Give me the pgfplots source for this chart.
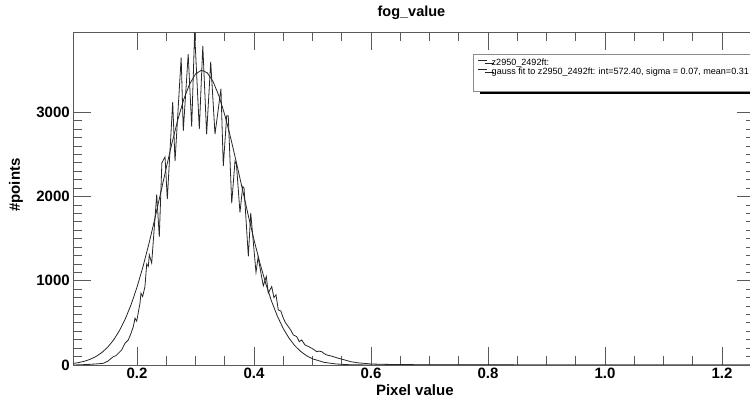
\documentclass[border=0pt]{standalone}
\usepackage{fontspec}
\setmainfont{Liberation Sans}
\usepackage{pgfplots}
\pgfplotsset{compat=1.18}
\usetikzlibrary{shadows}

\begin{document}
\begin{tikzpicture}
\begin{axis}[
  scale only axis,
  width=681.7pt, height=332.7pt,
  xmin=0.0911, xmax=1.2564,
  ymin=0, ymax=3950,
  xtick={0.2,0.4,0.6,0.8,1.0,1.2},
  xticklabels={0.2,0.4,0.6,0.8,1.0,1.2},
  ytick={0,1000,2000,3000},
  yticklabels={0,1000,2000,3000},
  minor x tick num=3,
  minor y tick num=9,
  tick align=inside,
  major tick length=18pt,
  minor tick length=9pt,
  axis line style={black!65, line width=0.8pt},
  every tick/.style={black!65, line width=0.8pt},
  tick label style={font=\fontsize{15}{15}\selectfont\bfseries},
  xlabel={Pixel value}, ylabel={\#points}, title={fog\_value},
  label style={font=\fontsize{15}{15}\selectfont\bfseries},
  every axis title shift=0pt,
  title style={font=\fontsize{14.5}{14.5}\selectfont\bfseries, at={(axis description cs:0.496,1.058)}, anchor=center, yshift=0pt},
  xlabel style={at={(axis description cs:0.501,-0.075)}, anchor=center},
  ylabel style={at={(axis description cs:-0.084,0.541)}, anchor=center},
  legend style={at={(axis description cs:0.5865,0.9348)}, anchor=north west,
    draw=black!45, line width=0.6pt, fill=white,
    font=\fontsize{9.05}{9.05}\selectfont, inner xsep=4pt, inner ysep=5pt,
    row sep=0pt, column sep=3.5pt,
    nodes={inner xsep=1pt, inner ysep=0pt, text height=6.5pt, text depth=2.5pt},
    drop shadow={shadow xshift=7pt, shadow yshift=-2.7pt, fill=black, opacity=1}},
  legend cell align=left,
  legend image code/.code={\draw[#1] (0pt,3pt) -- (9pt,3pt);},
]
\addplot[black!85, line width=0.8pt] coordinates {
(0.0911,0) (0.105,3) (0.120,8) (0.1330,14) (0.1424,20) (0.1500,45) (0.1595,99)
(0.1640,110) (0.1680,139) (0.1738,178) (0.1795,258) (0.1851,297) (0.1900,380)
(0.1937,456) (0.1966,556) (0.1995,520) (0.2051,734) (0.2068,853) (0.2097,813)
(0.2136,932) (0.2166,1200) (0.2193,1170) (0.2210,1309) (0.2251,1210) (0.2337,2024)
(0.2381,1520) (0.2425,2400) (0.2479,2470) (0.2518,1970) (0.2610,3120) (0.2650,2420)
(0.2755,3650) (0.2791,2780) (0.2875,3690) (0.2935,2830) (0.2985,3950) (0.3065,2800)
(0.3125,3790) (0.3190,2740) (0.3260,3600) (0.3333,2740) (0.3435,3280) (0.3475,2360)
(0.3533,2960) (0.3560,2960) (0.3619,1920) (0.3675,2420) (0.3700,2380) (0.3760,1810)
(0.3807,2120) (0.3830,2100) (0.3903,1290) (0.3944,1805) (0.4034,1100) (0.4070,1280)
(0.4140,1010) (0.4159,940) (0.4210,1051) (0.4244,853) (0.4303,932) (0.4340,800)
(0.4376,833) (0.4415,654) (0.4460,640) (0.4501,556) (0.4540,500) (0.4586,456)
(0.4627,416) (0.4672,357) (0.4730,337) (0.4774,277) (0.4815,297) (0.4872,238)
(0.4930,220) (0.4986,199) (0.5030,180) (0.5072,158) (0.5110,165) (0.5157,158)
(0.5200,135) (0.5243,119) (0.5300,110) (0.5356,99) (0.5441,80) (0.5550,60)
(0.5650,40) (0.5760,27) (0.5870,20) (0.6000,12) (0.6200,8) (0.6500,5) (0.7000,3)
(0.7500,2) (0.8000,2) (0.8500,1) (0.9000,1) (0.9500,1) (1.0000,0) (1.2564,0)
};
\addlegendentry{z2950\_2492ft:}
\addplot[black!85, line width=0.8pt] coordinates {
(0.0911,18.8) (0.10,28.4) (0.11,44.3) (0.12,67.7) (0.13,101.3) (0.14,148.2)
(0.15,212.2) (0.16,297.4) (0.17,407.8) (0.18,547.2) (0.19,718.6) (0.20,923.7)
(0.21,1161.5) (0.22,1429.5) (0.23,1721.6) (0.24,2029.2) (0.25,2340.5) (0.26,2641.9)
(0.27,2918.2) (0.28,3154.6) (0.29,3337.0) (0.30,3454.5) (0.31,3499.6) (0.32,3469.5)
(0.33,3366.0) (0.34,3195.7) (0.35,2969.2) (0.36,2699.7) (0.37,2402.1) (0.38,2091.7)
(0.39,1782.3) (0.40,1486.2) (0.41,1212.9) (0.42,968.6) (0.43,756.9) (0.44,578.8)
(0.45,433.2) (0.46,317.3) (0.47,227.5) (0.48,159.5) (0.49,109.5) (0.50,73.5)
(0.52,31.1) (0.54,12.1) (0.56,4.3) (0.58,1.4) (0.60,0.4) (0.65,0) (1.2564,0)
};
\addlegendentry{gauss fit to z2950\_2492ft: int=572.40, sigma = 0.07, mean=0.31}
\addlegendimage{empty legend}
\addlegendentry{}
\end{axis}
\pgfresetboundingbox
\path[use as bounding box] ([xshift=-73.3pt,yshift=-35pt]current axis.south west) rectangle ([xshift=-5pt,yshift=32.3pt]current axis.north east);
\end{tikzpicture}
\end{document}
